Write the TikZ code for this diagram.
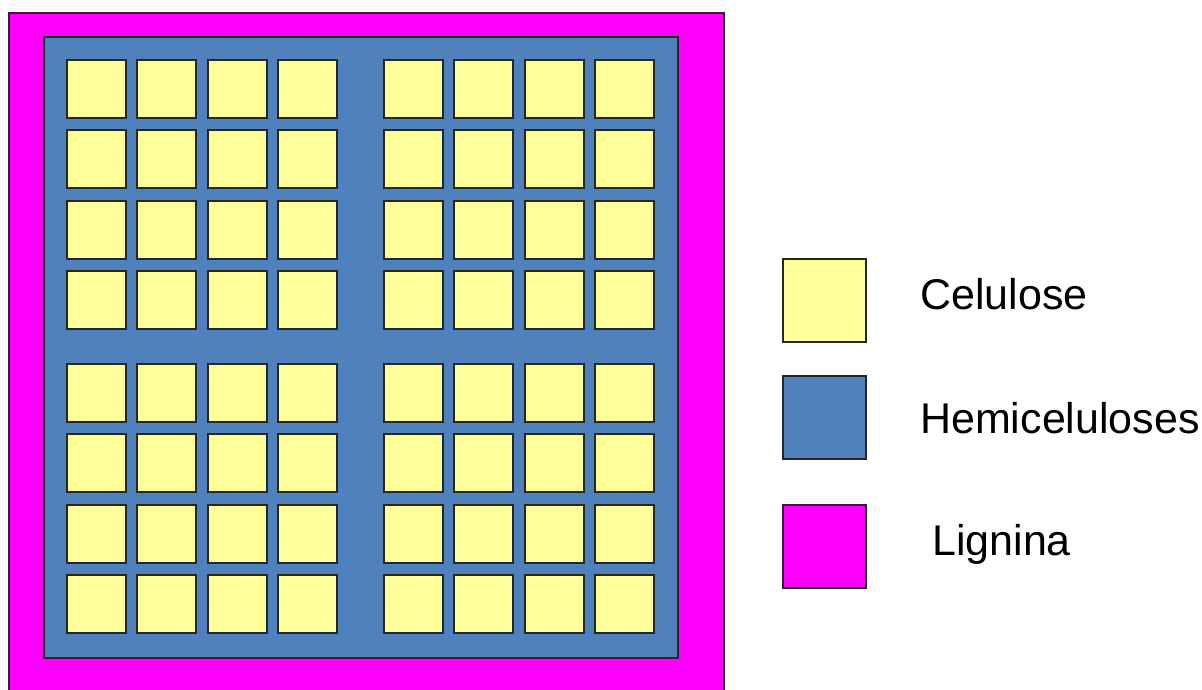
\documentclass[tikz,border=0pt]{standalone}
\usepackage{fontspec}
\setmainfont{Liberation Sans}
\definecolor{cel}{HTML}{FFFF99}
\definecolor{hemi}{HTML}{4F81BD}
\definecolor{lig}{HTML}{FF00FF}
\begin{document}
\begin{tikzpicture}[x=1pt,y=-1pt,
  box/.style={draw=black!85,line width=2pt},
  lab/.style={anchor=base west,inner sep=0pt,font=\fontsize{43}{50}\selectfont}]
\useasboundingbox (0,0) rectangle (1202,689);
\clip (0,0) rectangle (1202,689);
\fill[white] (0,0) rectangle (1202,689);
% lignin layer
\draw[box,fill=lig] (9,13) rectangle (724,700);
% hemicellulose layer
\draw[box,fill=hemi] (44,37) rectangle (678,658);
% cellulose fibrils
\foreach \gx in {67,384}
  \foreach \gy in {60,364}
    \foreach \i in {0,...,3}
      \foreach \j in {0,...,3}
        \draw[box,fill=cel] ({\gx+70.4*\i},{\gy+70.3*\j}) rectangle +(59,58);
% legend
\draw[box,fill=cel] (783,259) rectangle (866,342);
\draw[box,fill=hemi] (783,376) rectangle (866,459);
\draw[box,fill=lig] (783,505) rectangle (866,588);
\node[lab] (lcel) at (920,309) {Celulose};
\node[lab] (lhemi) at (920,433) {Hemiceluloses};
\node[lab] (llig) at (932,555) {Lignina};
\end{tikzpicture}
\end{document}
